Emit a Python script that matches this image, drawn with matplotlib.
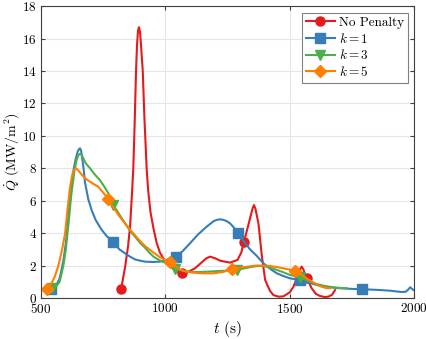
import numpy as np
import matplotlib
matplotlib.use("Agg")
import matplotlib.pyplot as plt

plt.rcParams['font.family'] = 'serif'
plt.rcParams['font.serif'] = ['cmr10', 'DejaVu Serif']
plt.rcParams['mathtext.fontset'] = 'cm'
plt.rcParams['axes.formatter.use_mathtext'] = True

# No penalty
red_t = [822, 838, 850, 858, 866, 871, 876, 882, 886, 890, 894, 898, 902, 909, 916, 925, 931, 940,
         952, 965, 978, 1005, 1032, 1050, 1066, 1090, 1119, 1150, 1165, 1180, 1200, 1220, 1260,
         1290, 1305, 1316, 1330, 1340, 1350, 1356, 1362, 1374, 1388, 1401, 1420, 1434, 1455,
         1474, 1500, 1515, 1535, 1542, 1548, 1555, 1562, 1568, 1588, 1605, 1622, 1640, 1655,
         1670, 1682]
red_q = [0.55, 1.9, 3.2, 4.4, 6.5, 8.0, 10.5, 14.0, 15.6, 16.5, 16.7, 16.4, 15.6, 14.0, 11.0, 7.9,
         6.6, 5.3, 4.3, 3.4, 2.8, 2.1, 1.8, 1.62, 1.56, 1.6, 1.83, 2.25, 2.45, 2.55, 2.45, 2.3,
         2.18, 2.35, 2.8, 3.47, 4.3, 4.9, 5.5, 5.73, 5.5, 4.6, 2.55, 1.11, 0.45, 0.18, 0.08,
         0.1, 0.35, 0.7, 1.52, 1.8, 1.93, 1.75, 1.42, 1.21, 0.6, 0.25, 0.12, 0.06, 0.08,
         0.2, 0.49]
red_marks = [822, 1066, 1316, 1568]

# k = 1
blue_t = [540, 560, 575, 590, 600, 610, 620, 632, 640, 648, 654, 657, 661, 665, 671, 677, 690, 704,
          720, 744, 765, 791, 815, 838, 858, 878, 898, 918, 950, 978, 1000, 1019, 1043, 1070,
          1099, 1130, 1166, 1195, 1210, 1220, 1232, 1245, 1260, 1275, 1291, 1315, 1340, 1367,
          1394, 1421, 1448, 1475, 1501, 1541, 1575, 1608, 1650, 1702, 1750, 1790, 1850, 1903,
          1930, 1950, 1965, 1975, 1984, 1990, 1997]
blue_q = [0.54, 0.75, 1.2, 2.3, 3.4, 5.0, 6.6, 8.0, 8.6, 9.05, 9.2, 9.23, 9.1, 8.7, 8.0, 7.1, 6.1,
          5.4, 4.8, 4.2, 3.8, 3.47, 3.0, 2.75, 2.55, 2.38, 2.3, 2.24, 2.22, 2.24, 2.32, 2.45,
          2.55, 2.9, 3.37, 3.9, 4.4, 4.75, 4.83, 4.85, 4.82, 4.75, 4.6, 4.35, 3.99, 3.5, 3.0,
          2.6, 2.14, 1.8, 1.52, 1.35, 1.21, 1.11, 0.95, 0.8, 0.68, 0.6, 0.56, 0.54, 0.5, 0.45,
          0.4, 0.37, 0.38, 0.5, 0.66, 0.58, 0.49]
blue_marks = [540, 791, 1043, 1291, 1541, 1790]

# k = 3
green_t = [543, 560, 575, 590, 600, 612, 622, 635, 643, 650, 657, 664, 672, 680, 697, 717, 737,
           755, 771, 791, 815, 838, 858, 878, 898, 918, 935, 952, 980, 1005, 1020, 1039, 1070,
           1099, 1130, 1166, 1200, 1240, 1287, 1315, 1340, 1370, 1394, 1421, 1448, 1475, 1501,
           1541, 1575, 1608, 1640, 1675, 1700, 1729]
green_q = [0.6, 0.7, 1.0, 2.0, 3.0, 4.8, 6.4, 7.9, 8.5, 8.8, 8.9, 8.8, 8.55, 8.3, 8.0, 7.6, 7.27,
           6.85, 6.45, 5.73, 5.15, 4.6, 4.15, 3.78, 3.4, 3.1, 2.8, 2.55, 2.3, 2.14, 1.95, 1.8,
           1.68, 1.62, 1.6, 1.62, 1.65, 1.68, 1.73, 1.82, 1.9, 1.97, 1.97, 1.88, 1.73, 1.58,
           1.42, 1.28, 1.05, 0.86, 0.74, 0.66, 0.62, 0.6]
green_marks = [543, 791, 1039, 1287, 1541]

# k = 5
orange_t = [523, 540, 555, 570, 585, 597, 607, 617, 625, 632, 640, 648, 656, 664, 680, 697, 715,
            730, 750, 771, 790, 811, 838, 865, 890, 918, 952, 975, 992, 1019, 1040, 1059, 1085,
            1112, 1150, 1193, 1230, 1267, 1300, 1340, 1367, 1400, 1421, 1450, 1474, 1500, 1521,
            1545, 1568, 1595, 1622, 1645, 1662]
orange_q = [0.55, 0.85, 1.3, 2.0, 3.0, 4.0, 5.5, 6.86, 7.55, 7.9, 8.0, 7.9, 7.75, 7.6, 7.35, 7.17,
            7.0, 6.86, 6.5, 6.08, 5.6, 5.12, 4.6, 4.09, 3.65, 3.2, 2.8, 2.55, 2.4, 2.2, 1.95,
            1.75, 1.62, 1.56, 1.52, 1.52, 1.6, 1.77, 1.87, 1.95, 2.0, 2.0, 1.97, 1.9, 1.83, 1.75,
            1.65, 1.45, 1.21, 0.95, 0.72, 0.62, 0.6]
orange_marks = [523, 771, 1019, 1267, 1521]

series = [
    (red_t, red_q, red_marks, '#E41A1C', 'o', 'No Penalty', 6.5),
    (blue_t, blue_q, blue_marks, '#377EB8', 's', '$k = 1$', 6.5),
    (green_t, green_q, green_marks, '#4DAF4A', 'v', '$k = 3$', 7),
    (orange_t, orange_q, orange_marks, '#FF7F00', 'D', '$k = 5$', 6.5),
]

fig = plt.figure(figsize=(4.27, 3.39), dpi=100)
ax = fig.add_axes([0.096, 0.121, 0.874, 0.861])

for t, q, marks, col, mk, lab, ms in series:
    idx = [i for i, v in enumerate(t) if v in marks]
    ax.plot(t, q, color=col, lw=1.5, marker=mk, markevery=idx, ms=ms,
            mfc=col, mec=col, label=lab, solid_joinstyle='round')

ax.set_xlim(500, 2000)
ax.set_ylim(0, 18)
ax.set_xticks([500, 1000, 1500, 2000])
ax.set_yticks(np.arange(0, 19, 2))
ax.grid(True, color='#e6e6e6', lw=0.8)
ax.set_axisbelow(True)
ax.tick_params(direction='in', top=True, right=True, labelsize=9.5, length=3,
               color='#404040', pad=3)
for s in ax.spines.values():
    s.set_color('#404040')
    s.set_linewidth(0.8)

ax.set_xlabel('$t$ (s)', fontsize=11, labelpad=2)
ax.set_ylabel(r'$\dot{Q}$ $(\mathrm{MW/m^2})$', fontsize=10, labelpad=1)

leg = ax.legend(loc='upper right', fontsize=9.5, fancybox=False, framealpha=1,
                edgecolor='#808080', handlelength=2.2, handletextpad=0.3,
                borderpad=0.3, labelspacing=0.2, borderaxespad=0.5)
leg.get_frame().set_linewidth(0.8)

fig.savefig('out.png', dpi=100)
